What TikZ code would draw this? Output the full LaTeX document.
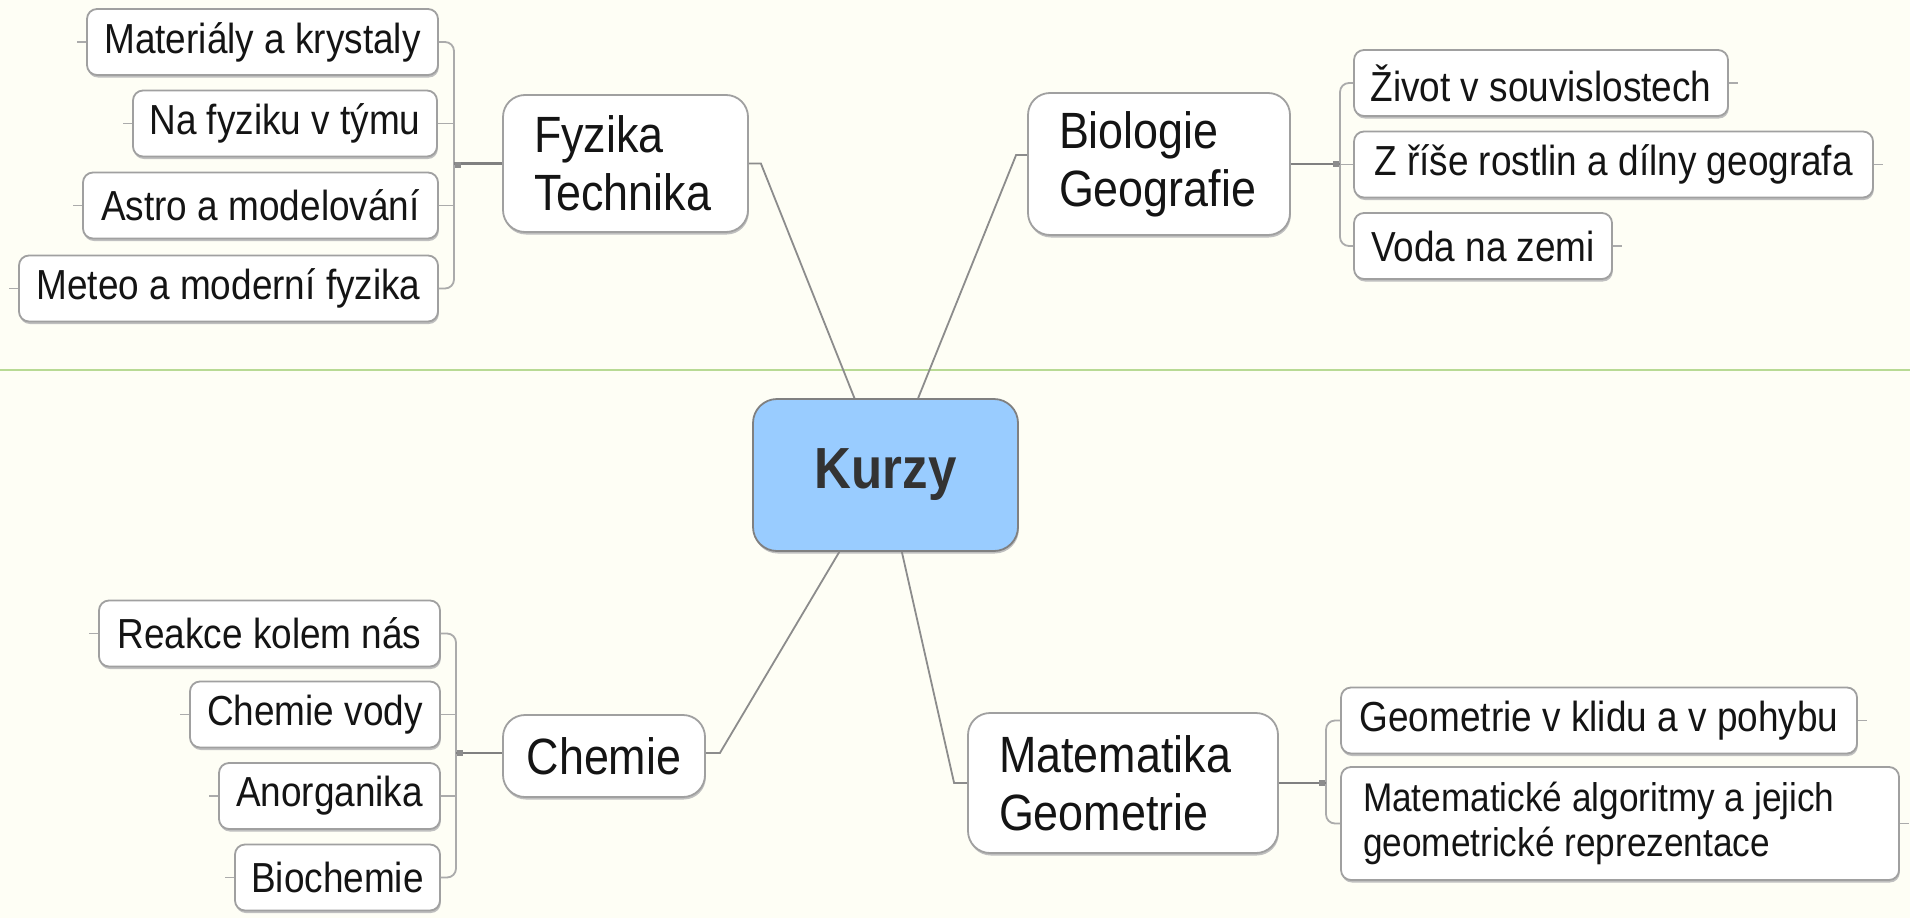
\documentclass[tikz,border=0pt]{standalone}
\usepackage{fontspec}
\setmainfont{Liberation Sans}[FakeStretch=0.88]
\usetikzlibrary{shadows}
\definecolor{paper}{HTML}{FEFEF5}
\definecolor{rulegreen}{HTML}{B8DA94}
\definecolor{rootblue}{HTML}{99CCFF}
\definecolor{boxline}{HTML}{A0A0A0}
\definecolor{wire}{HTML}{8C8C8C}
\begin{document}
\begin{tikzpicture}[x=1pt, y=-1pt,
  box/.style={draw=boxline, fill=white, line width=1.8pt, inner sep=0pt, align=flush left, text=black!92,
    drop shadow={shadow xshift=0.8pt, shadow yshift=-2.5pt, fill=black!25, opacity=1}},
  leaf/.style={box, rounded corners=10pt, minimum height=66pt, font=\fontsize{42}{46}\selectfont},
  topic/.style={box, rounded corners=22pt, inner xsep=31pt, font=\fontsize{51}{58}\selectfont},
  root/.style={box, fill=rootblue, draw=black!50, rounded corners=24pt, text=black!80, font=\fontsize{58}{64}\selectfont\bfseries},
  trunk/.style={draw=wire, line width=1.8pt},
  limb/.style={draw=black!50, line width=2.6pt},
  twig/.style={draw=black!33, line width=1.8pt, rounded corners=9pt}]
  \path[use as bounding box, fill=paper] (0,0) rectangle (1910,918);
  \draw[rulegreen, line width=1.5pt] (0,370) -- (1910,370);
  \node[root, minimum width=265pt, minimum height=152pt] (kurzy) at (885.5,475) {Kurzy};
  \node[topic, text width=183pt, minimum height=137pt] (fyzika) at (625.5,163.5) {Fyzika\\Technika};
  \node[topic, text width=200pt, minimum height=142pt] (biologie) at (1159,164) {Biologie\\Geografie};
  \node[topic, inner xsep=0pt, minimum width=202pt, minimum height=82pt] (chemie) at (604,756) {Chemie};
  \node[topic, text width=248pt, minimum height=140pt] (matematika) at (1123,783) {Matematika\\Geometrie};
  \node[leaf, minimum width=351pt] (mater) at (262.5,42) {Materiály a krystaly};
  \node[leaf, minimum width=304pt] (tymu) at (285,123.5) {Na fyziku v týmu};
  \node[leaf, minimum width=355pt] (astro) at (260.5,205.5) {Astro a modelování};
  \node[leaf, minimum width=419pt] (meteo) at (228.5,288.5) {Meteo a moderní fyzika};
  \node[leaf, minimum width=341pt] (reakce) at (269.5,633.5) {Reakce kolem nás};
  \node[leaf, minimum width=250pt] (vody) at (315,714.5) {Chemie vody};
  \node[leaf, minimum width=221pt] (anorg) at (329.5,796) {Anorganika};
  \node[leaf, minimum width=205pt] (bioch) at (337.5,877.5) {Biochemie};
  \node[leaf, minimum width=374pt] (zivot) at (1541,83) {Život v souvislostech};
  \node[leaf, minimum width=519pt] (rise) at (1613.5,164.5) {Z říše rostlin a dílny geografa};
  \node[leaf, minimum width=258pt] (voda) at (1483,246) {Voda na zemi};
  \node[leaf, minimum width=516pt] (geom) at (1599,720.5) {Geometrie v klidu a v pohybu};
  \node[leaf, inner xsep=22pt, text width=514pt, minimum height=113pt, font=\fontsize{40}{45}\selectfont] (alg) at (1620,823.5) {Matematické algoritmy a jejich\\geometrické reprezentace};
  \draw[trunk] (fyzika.east) -- ++(12,0) -- (kurzy.112);
  \draw[trunk] (kurzy.67) -- ([xshift=-11pt, yshift=9pt]biologie.west) -- ([yshift=9pt]biologie.west);
  \draw[trunk] (kurzy.239) -- ([xshift=14pt, yshift=3pt]chemie.east) -- ([yshift=3pt]chemie.east);
  \draw[trunk] (kurzy.282) -- ([xshift=-13pt]matematika.west) -- (matematika.west);
  \coordinate (fyzbar) at (454,165);
  \coordinate (chembar) at (456,753);
  \coordinate (biobar) at (1340,164);
  \coordinate (matbar) at (1326,783);
  \draw[twig] (mater.east) -| (fyzbar) |- (meteo.east);
  \draw[twig] (tymu.east) -- (tymu.east -| fyzbar);
  \draw[twig] (astro.east) -- (astro.east -| fyzbar);
  \draw[limb] (fyzika.west) -- (fyzika.west -| fyzbar);
  \draw[twig] (reakce.east) -| (chembar) |- (bioch.east);
  \draw[twig] (vody.east) -- (vody.east -| chembar);
  \draw[twig] (anorg.east) -- (anorg.east -| chembar);
  \draw[limb] ([yshift=3pt]chemie.west) -- (chembar);
  \draw[twig] (zivot.west) -| (biobar) |- (voda.west);
  \draw[twig] (rise.west) -- (rise.west -| biobar);
  \draw[limb] (biologie.east) -- (biologie.east -| biobar);
  \draw[twig] (geom.west) -| (matbar) |- (alg.west);
  \draw[limb] (matematika.east) -- (matematika.east -| matbar);
  \foreach \n in {mater,tymu,astro,meteo,reakce,vody,anorg,bioch}
    \draw[twig] (\n.west) -- ++(-9,0);
  \foreach \n in {zivot,rise,voda,geom,alg}
    \draw[twig] (\n.east) -- ++(9,0);
  \foreach \k in {fyzbar,chembar}
    \fill[black!45] ([xshift=1pt, yshift=3pt]\k) rectangle ++(6,6);
  \foreach \k in {biobar,matbar}
    \fill[black!45] ([xshift=-7pt, yshift=3pt]\k) rectangle ++(6,6);
\end{tikzpicture}
\end{document}
